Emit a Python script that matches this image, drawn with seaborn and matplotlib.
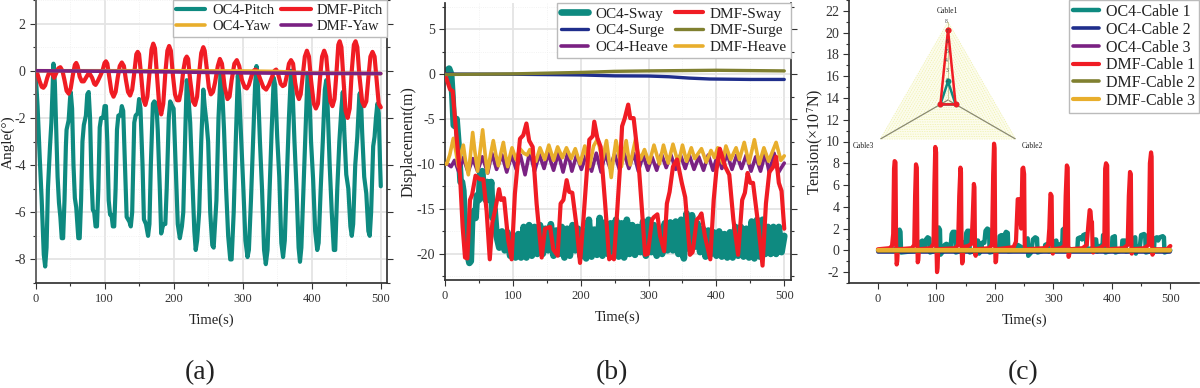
import numpy as np
import pandas as pd
import matplotlib
matplotlib.use("Agg")
import matplotlib.pyplot as plt
from matplotlib.ticker import MultipleLocator
import seaborn as sns

TEAL, RED, ORANGE, PURPLE, BLUE, OLIVE = "#0e8a80", "#f01c24", "#e8ae2c", "#7a2182", "#1f2e8c", "#808030"

# --- (a) angle, (time, value) ---
PITCH_OC4 = [(0,0),(3,-1.5),(6,-3.6),(9,-5.5),(12,-7.8),(14,-8.3),(16,-7.5),(18,-5.0),(21,-3.2),(23,-2.2),(25,-0.6),(26,0.3),(28,-0.5),
    (30,-2.5),(32,-4.5),(34,-5.6),(36,-6.2),(38,-7.1),(40,-7.1),(42,-5.5),(44,-3.2),(45,-2.5),(48,-2.1),(50,-1.2),(51,-0.9),(53,-1.6),
    (55,-4),(57,-5.4),(59,-5.8),(62,-7.1),(64,-7.1),(66,-5.5),(68,-3),(70,-2.3),(73,-1.9),(75,-1),(77,-0.9),(79,-2),(81,-4.5),(83,-5.9),
    (85,-6.0),(87,-6.6),(89,-6.6),(91,-5),(93,-2.4),(95,-2.0),(98,-2.0),(100,-1.5),(102,-1.5),(104,-3),(106,-5.5),(108,-6.1),(110,-6.1),
    (112,-6.6),(114,-6.6),(116,-5),(118,-2.5),(120,-1.9),(123,-1.9),(125,-1.5),(127,-1.7),(129,-3.5),(132,-6.2),(134,-6.3),(136,-6.4),
    (138,-6.6),(140,-6.0),(143,-2.2),(145,-1.9),(148,-1.8),(150,-1.2),(152,-1.6),(155,-4),(157,-6.3),(160,-6.5),(163,-7.0),(165,-6.5),
    (167,-4),(170,-1.4),(172,-1.3),(175,-1.4),(177,-2.5),(180,-5),(182,-6.9),(185,-6.5),(188,-6.5),(190,-5),(193,-2),(195,-1.3),(198,-1.5),
    (200,-1.6),(203,-4),(206,-6.5),(209,-7.1),(212,-6.6),(214,-6),(217,-2.5),(219,-0.4),(221,-0.9),(224,-2.2),(227,-4.5),(230,-6.8),
    (232,-7.6),(234,-7.2),(237,-6),(240,-3),(243,-0.8),(245,-1.5),(248,-2.3),(250,-3),(253,-6),(256,-7.4),(258,-7.5),(262,-5.5),(265,-2),
    (268,-0.1),(270,-0.6),(273,-2.5),(276,-5),(279,-7),(282,-8),(284,-8),(287,-6),(290,-3),(293,-0.2),(295,-1),(298,-3),(301,-5),(304,-7.2),
    (307,-7.9),(309,-7.6),(312,-5.5),(315,-3),(318,-0.6),(320,0.2),(322,-0.6),(325,-3),(328,-5),(331,-7.6),(333.5,-8.2),(336,-7.6),(339,-5),
    (342,-2.5),(345,-0.3),(347,-0.6),(350,-2.8),(353,-4.5),(356,-7.3),(358.5,-7.9),(361,-7.2),(364,-4.5),(367,-2),(370,0),(372,-0.6),
    (375,-3),(378,-5),(381,-7.5),(383,-8.1),(385,-7.5),(388,-5),(391,-2.5),(394,-0.1),(396,-0.5),(399,-3),(402,-4.6),(405,-6.8),(408,-7.6),
    (410,-7.3),(413,-5),(416,-3),(419,-0.8),(421,-0.4),(423,-1.5),(426,-4),(429,-6),(432,-7.6),(434,-7.6),(437,-5),(440,-3),(443,-1.6),
    (445,-0.9),(447,-2.5),(450,-4.4),(453,-5),(456,-6.6),(458,-7),(460,-6.5),(463,-4),(466,-2.8),(469,-1),(471,-0.9),(473,-2.6),(476,-4.5),
    (479,-5.2),(482,-6.8),(484,-7),(486,-6),(489,-3.2),(491,-2.8),(493,-2),(495,-1.4),(497,-1.8),(499,-4),(500,-4.9)]
PITCH_DMF = [(0,0),(3,-0.15),(6,-0.45),(9,-0.68),(11.4,-0.72),(14,-0.62),(17,-0.3),(20,-0.05),(23,-0.05),(27,-0.3),(30,-0.1),(33,0.1),(36,0.15),
    (39,0),(42,-0.4),(45,-0.85),(48,-0.97),(51,-0.75),(54,-0.2),(57,0.25),(59,0.33),(61,0.2),(64,-0.25),(67,-0.45),(70,-0.45),(73,-0.3),
    (76,-0.15),(79,-0.15),(82,-0.3),(85,-0.55),(87,-0.6),(90,-0.45),(94,-0.2),(97,0),(100,0.33),(102,0.4),(104,0.3),(107,-0.3),(110,-0.9),
    (113,-1.1),(116,-0.9),(119,-0.3),(122,0.2),(125,0.35),(128,0.2),(131,-0.4),(134,-0.9),(137,-1.05),(140,-0.8),(143,-0.1),(146,0.7),
    (148,0.8),(150,0.7),(153,-0.2),(156,-1.2),(159,-1.45),(162,-1.1),(165,-0.1),(168,0.9),(170.5,1.15),(173,0.95),(176,-0.2),(179,-1.4),
    (182,-1.85),(185,-1.4),(188,-0.1),(191,0.85),(193.5,1.05),(196,0.85),(199,-0.2),(202,-1),(205,-1.25),(208,-1.25),(211,-0.8),(214,0),
    (217,0.5),(219,0.6),(221,0.5),(224,-0.4),(228,-1.3),(231,-1.45),(234,-1.1),(237,-0.1),(240,0.75),(243,1),(245,0.85),(248,0.1),(251,-0.7),
    (254,-1),(257,-0.9),(260,-0.5),(264,0.2),(267,0.5),(270,0.3),(274,-0.7),(278,-1.2),(281,-1.1),(284,-0.4),(288,0.3),(291.5,0.45),(295,0.2),
    (299,-0.4),(303,-0.7),(306,-0.75),(309,-0.6),(313,-0.2),(316,0),(318,0.05),(321,0),(326,-0.4),(330,-0.7),(334,-0.8),(338,-0.6),(342,-0.3),
    (346,0),(348.5,0.05),(351,-0.1),(355,-0.55),(358,-0.65),(361,-0.6),(364,-0.2),(367,0.3),(370,0.45),(373,0.3),(376,-0.5),(379,-1),(381.5,-1.2),
    (384,-1),(387,-0.2),(390,0.6),(393,0.85),(396,0.6),(399,-0.4),(403,-1.4),(406,-1.6),(409,-1.4),(412,-0.3),(415,0.6),(418,0.85),(421,0.6),
    (424,-0.4),(427,-1.3),(430,-1.5),(433,-1.2),(436,0),(438.5,1.1),(440.5,1.25),(443,1),(446,-0.4),(449,-1.7),(452,-2),(455,-1.6),(458,0),
    (461,1.1),(463.5,1.25),(466,1),(469,-0.2),(473,-1.3),(476,-1.5),(479,-1.3),(482,-0.3),(485,0.6),(488,0.8),(491,0.6),(494,-0.4),(497,-1.4),(500,-1.55)]
YAW_OC4 = [(0,0),(100,0),(200,0),(300,-0.01),(350,-0.03),(400,-0.1),(500,-0.12)]
YAW_DMF = [(0,0),(100,-0.02),(200,-0.05),(300,-0.09),(400,-0.11),(500,-0.12)]

# --- (b) displacement ---
SWAY_OC4_HEAD = [(0,0),(3,0.4),(6,0.6),(9,0),(11,-2.5),(13,-5.7),(15,-5.8),(17,-5),(20,-8),(23,-12),(25,-12),(27,-13),(30,-18),(33,-20),
    (36,-21),(38,-20.8),(40,-16),(43,-15.2),(45,-16),(47,-13.5),(50,-14),(52,-11),(55,-10.8),(57,-13.5),(60,-14),(62,-12),(65,-14),(68,-12),
    (70,-16),(73,-15)]
SWAY_OC4_TAIL = [-18,-19.3,-17.5,-19.6,-17.6,-20.2,-18,-20.4,-17.8,-20.4,-17,-20.4,-16.8,-20.2,-17,-20,-16.8,-20,-17.2,-19.6,-16.7,-20.2,
    -17.4,-20,-17,-20.4,-17.2,-20.2,-16.8,-19.6,-17.2,-20.3,-17.4,-20.5,-16.2,-20.3,-17.3,-20.1,-16,-20.2,-16.5,-20,-16.6,-19.8,-16.2,-20.3,
    -16.6,-20.4,-16.2,-20,-16.8,-20.1,-17,-19.8,-16.4,-20.2,-16.2,-19.8,-16.8,-20.2,-17.2,-20,-16.6,-19.6,-16.5,-19.6,-16.4,-20,-16.2,-20.5,
    -15.5,-19.4,-15.7,-19.2,-16.6,-19.8,-17.2,-20.3,-17.4,-20,-17.6,-20.2,-17.5,-20.3,-17.8,-20.4,-17.6,-20.4,-17,-20.2,-17,-20.3,-17.2,-20.4,
    -16.4,-20.5,-16.2,-20.3,-16.2,-20,-17,-20,-17,-20,-17,-19.8,-18]
SURGE_OC4 = [(0,0),(100,-0.02),(200,-0.1),(250,-0.2),(300,-0.22),(330,-0.3),(360,-0.45),(390,-0.55),(450,-0.6),(500,-0.6)]
SURGE_DMF = [(0,-0.05),(100,0.02),(200,0.18),(250,0.3),(300,0.35),(400,0.42),(500,0.35)]
HEAVE_OC4 = [(0,-10),(4,-10),(9,-10.3),(14,-9.6),(20,-10.8),(27,-9.3),(34,-10.9),(41,-9.4),(48,-10.8),(55,-9.2),(63,-11),(69,-8.8),(76,-10.6),
    (84,-9),(91,-10.9),(98,-9),(105,-10.6),(111,-9),(118,-11.2),(125,-8.6),(132,-10.8),(139,-8.9),(146,-10.5),(152,-8.8),(160,-10.7),(167,-8.8),
    (174,-10.9),(181,-8.7),(187,-10.8),(194,-9),(201,-10.6),(208,-9),(216,-10.8),(223,-8.8),(230,-10.9),(236,-8.8),(243,-10.4),(250,-8.9),
    (257,-10.6),(264,-8.8),(271,-10.5),(278,-8.8),(285,-10.8),(292,-9),(299,-10.7),(305,-9.2),(312,-10.7),(319,-8.9),(326,-10.4),(333,-9),
    (340,-10.6),(347,-9),(354,-10.5),(360,-9),(367,-10.6),(374,-9.2),(381,-10.7),(388,-9),(395,-10.7),(402,-8.9),(408,-10.5),(416,-8.9),
    (423,-10.6),(430,-9),(437,-10.5),(444,-9),(451,-10.8),(458,-9.2),(465,-10.8),(472,-8.8),(478,-11),(485,-8.8),(491,-11),(495,-10.5),(500,-9.9)]
HEAVE_DMF = [(0,-10),(2.5,-10),(7,-9),(12.3,-7.15),(16,-8.6),(19.7,-10.3),(23,-9),(27,-7.9),(30,-9.5),(34.4,-11.2),(37.5,-9),(40.8,-6.5),(44,-8.6),
    (48,-10.8),(52,-8.4),(55.5,-6.2),(59,-8.8),(62.4,-11),(67,-9),(71.2,-7.4),(75,-9),(78.6,-10.2),(82,-8.9),(86,-7.6),(89,-9),(92.4,-10.3),
    (96,-9),(98.8,-8.2),(104.7,-9.5),(110.5,-8.3),(116,-8.8),(121,-9),(125,-8.4),(134,-9.7),(140,-8.2),(147,-9.5),(153,-7.9),(160,-9.6),(166,-8.1),
    (173,-9.3),(179,-8.2),(186,-9.4),(192,-8.3),(199,-10),(206,-8),(213,-10.3),(219,-8),(225,-7.2),(232,-9.6),(238,-7.4),(245,-11.5),(248,-9.5),
    (252,-7.4),(256,-9),(260,-10.3),(263,-9),(267,-7.4),(270,-9),(273,-10.1),(277,-8.6),(281,-7.2),(284,-8.6),(288,-9.5),(294,-8.4),(301,-9.9),
    (308,-7.9),(316,-10),(322,-7.9),(329,-9.9),(336,-7.8),(344,-10),(350,-7.9),(356,-9.7),(363,-8.2),(368,-9.4),(378,-8.3),(385,-9.8),(392,-8.5),
    (397,-9.3),(402,-8.2),(409,-9.9),(414,-8),(421,-9.5),(429,-8.2),(434,-9.5),(441,-7.6),(448,-9.9),(456,-7.3),(463,-10),(470,-8.2),(477,-9.7),
    (488,-7.6),(495,-9.6),(500,-9.1)]
SWAY_DMF = [(0,0),(3,-0.7),(7.4,-1.7),(11.3,-1.9),(16,-6.1),(22,-11.1),(26,-17),(29.5,-20.4),(33,-20.5),(36.8,-14),(40,-13.4),(45,-11.3),(51.5,-11.7),
    (56.5,-11.7),(61.4,-15.3),(66,-20.6),(69.8,-16.5),(73.7,-15.2),(79.6,-12.8),(82.5,-14),(87,-13.8),(93,-18.4),(98.2,-20.6),(103,-13.3),(107,-10),
    (110.5,-7.2),(115.4,-6.8),(120,-5.5),(124,-7.4),(129.2,-8.1),(135,-14.4),(142.5,-20.4),(147.4,-17.2),(155,-17),(159.6,-19.5),(166,-20.2),
    (170.4,-14.4),(174.5,-14),(179.3,-11.8),(183,-13.1),(187.6,-13.2),(194,-17),(199,-21),(204,-16.2),(209,-10.9),(212.7,-7.3),(217.8,-6.9),
    (220,-5.3),(224.5,-7.1),(229.4,-8.1),(236,-14.4),(242,-20.6),(245.5,-20.3),(249,-20.6),(254,-15),(257.8,-10.5),(261,-5.8),(265,-4.9),(270,-3.4),
    (273,-4.9),(278,-4.9),(285,-9.6),(290,-14.8),(295,-20.1),(299,-20),(305,-16.2),(308,-15.9),(313,-15.6),(317,-18),(323,-19.7),(327,-14.4),
    (331,-13.1),(336,-10.3),(342,-9.5),(349,-12.1),(354,-13.7),(361,-20.1),(365,-19.8),(371,-16.2),(375,-15.9),(378,-15.5),(383,-18),(391,-20.6),
    (396,-14),(400,-10.7),(405,-8.3),(413,-10.3),(419,-11.2),(425,-16.2),(432,-20.1),(438,-14),(442,-13.2),(446,-11),(450,-12.1),(454,-12.1),
    (462,-17),(468,-21.3),(473,-14.4),(478,-10.9),(484,-10.3),(488,-9.2),(492,-12.1),(496,-13),(500,-17.2)]

# --- (c) tension ---
CABLE1_OC4 = [(0,0),(30,0.1),(33,0.3),(34,1.8),(37,1.9),(38.5,1.7),(39.5,-0.2),(72,0),(73,0.8),(76,0.9),(78,0.8),(80,0.1),(82,1),(85,1.2),(88,1.1),(89,-0.2),
    (100,0),(101,1.9),(104,2.1),(106,1.9),(107,-0.4),(113,0),(114,0.5),(117,0.6),(120,0.5),(124,0.1),(126,1.5),(128,1.7),(132,1.7),(133,-0.2),(145,0),
    (146,0.7),(149,0.3),(151,1.6),(153,1.8),(156,1.8),(157,-0.2),(167,0),(168,0.9),(171,0.9),(173,-0.3),(177,0),(178,0.7),(182,0.7),(184,1.8),(187,2),(190,1.9),
    (191,-0.2),(207,0),(208,1.3),(211,1.4),(214,1.3),(215,0.3),(217,1.5),(219,1.7),(222,1.6),(223,-0.1),(236,0),(237,0.5),(239,0.5),(252,0.1),(253,1),(256,1.1),
    (257,-0.5),(262,-0.2),(265,1),(269,1.2),(272,1.1),(273,-0.2),(285,0),(286,0.5),(290,0.6),(292,-0.1),(300,0),(301,0.8),(305,0.9),(307,0.2),(309,0.5),(313,0.6),
    (315,0.1),(316,1.9),(318,2),(320,0.4),(332,0),(341,0.1),(342,1.1),(346,1.2),(349,1),(351,1.4),(355,1.5),(357,0.1),(368,0.2),(369,1),(373,1),(375,-0.1),(378,0),
    (379,0.4),(384,0.4),(385,1.4),(388,1.4),(389,-0.2),(400,0),(401,1.2),(405,1.3),(406,-0.2),(417,0),(418,0.9),(423,0.9),(424,-0.1),(434,0),(435,1.1),(440,1.2),
    (441,-0.3),(444,0.3),(448,0.4),(450,1.4),(455,1.5),(457,1.4),(458,-0.2),(472,0),(473,1.1),(477,1.2),(479,0.9),(482,1.2),(487,1.3),(489,1.2),(490,-0.2),(500,0)]
CABLE1_DMF = [(0,0.1),(20,0.2),(24,0.4),(26,1.5),(27.5,7.5),(28.5,8.2),(30,8.1),(31,1),(32,-1.3),(33,-1),(34,0.1),(58,0.2),(62,0.5),(63.5,5),(65,7.9),(66.5,7.6),
    (67.5,0.5),(68,-1.1),(69,-0.9),(70,0.1),(90,0.2),(95,0.6),(96.5,6),(98,9.5),(99.5,9),(100,0.5),(101,-2),(102,-1.6),(103,0.1),(132,0.2),(137,0.5),(139,5),(141,7.6),
    (142,7.2),(143,0.2),(144,-1.2),(145,-1),(146,0.3),(154,0.4),(160,0.6),(162,3),(164,6.1),(165,5.8),(166,0),(167,-0.5),(168,0.1),(190,0.2),(195,0.5),(197,7),(198.5,9.8),
    (199.5,9.4),(200.5,0.5),(201,-1.1),(202,-1),(203,0.1),(232,0.3),(236,0.8),(239,4.7),(241,4.7),(243,3),(245,2),(247,7.5),(248.5,7.6),(250,7),(251,0.4),(252,0.1),(285,0.2),
    (291,0.5),(293,2),(295,5.2),(297,5),(298,0.2),(299,-0.3),(300,0.1),(313,0.2),(319,0.4),(321,5),(323,7.8),(324.5,7.6),(325.5,0.3),(326,-0.6),(327,-0.4),(328,0.1),(350,0.2),
    (357,0.5),(360,2.5),(362,3.7),(363.5,3.6),(365,2.4),(366,2.6),(367,0.2),(368,-0.2),(369,0.1),(380,0.2),(387,0.5),(388.5,7.5),(390,8),(392,7.8),(393,0.1),(420,0.2),(427,0.5),
    (429,5),(431,7.2),(432.5,7),(433.5,0.1),(434,-0.3),(435,-0.1),(436,0.1),(455,0.2),(463,0.5),(465,8),(467,9),(468,8.6),(469,0.2),(469.5,-0.4),(471,0.1),(490,0.1),(495,0.1),(498,0.3),(500,0.4)]
CABLE2_OC4 = [(0,-0.14),(500,-0.14)]
CABLE3_OC4 = [(0,-0.1),(500,-0.1)]
CABLE2_DMF = [(0,-0.04),(500,-0.04)]
CABLE3_DMF = [(0,0.06),(500,0.06)]

# inset radar, one value per cable
RADAR_NAMES = ["Cable1", "Cable2", "Cable3"]
RADAR_OC4 = [1.9, 0.9, 0.9]
RADAR_DMF = [7.2, 0.9, 0.9]
RADAR_MAX = 8

sns.set_theme(style="ticks")
plt.rcParams["font.family"] = ["Liberation Serif", "DejaVu Sans"]
plt.rcParams["mathtext.fontset"] = "stix"
plt.rcParams["axes.unicode_minus"] = False
plt.rcParams["axes.edgecolor"] = "#333333"
plt.rcParams["xtick.color"] = "#333333"
plt.rcParams["ytick.color"] = "#333333"
plt.rcParams["text.color"] = "#222222"
plt.rcParams["axes.labelcolor"] = "#222222"

W, H = 1200, 388
fig = plt.figure(figsize=(W / 100, H / 100), dpi=100)


def box(left, top, right, bottom):
    return [left / W, 1 - bottom / H, (right - left) / W, (bottom - top) / H]


def draw(ax, pts, color, lw, label=None, z=2):
    df = pd.DataFrame(pts, columns=["t", "v"])
    sns.lineplot(data=df, x="t", y="v", ax=ax, color=color, linewidth=lw, estimator=None, sort=False,
                 label=label, zorder=z, legend=False, solid_joinstyle="round")


def style(ax, xlim, ylim, ymaj, ymin, grid=True, ysize=10):
    ax.set_xlim(*xlim)
    ax.set_ylim(*ylim)
    ax.xaxis.set_major_locator(MultipleLocator(100))
    ax.xaxis.set_minor_locator(MultipleLocator(50))
    ax.yaxis.set_major_locator(MultipleLocator(ymaj))
    ax.yaxis.set_minor_locator(MultipleLocator(ymin))
    ax.tick_params(axis="x", which="major", labelsize=9, length=4, width=0.8, pad=3)
    ax.tick_params(axis="y", which="major", labelsize=ysize, length=4, width=0.8, pad=3)
    ax.tick_params(axis="both", which="minor", length=2.5, width=0.8)
    ax.set_xlabel("")
    ax.set_ylabel("")
    if grid:
        ax.grid(True, which="major", color="#e4e4e4", linewidth=1.3)
        ax.grid(True, which="minor", color="#efefef", linewidth=0.6, linestyle=":")
        ax.set_axisbelow(True)


def legend(ax, handles, ncol, fontsize, handlelength=2.1, labelspacing=0.2, columnspacing=0.5):
    leg = ax.legend(handles=handles, ncol=ncol, loc="upper right", bbox_to_anchor=(1.0, 1.0), fontsize=fontsize,
                    frameon=True, fancybox=False, framealpha=1, edgecolor="#bbbbbb", borderpad=0.25,
                    columnspacing=columnspacing, handlelength=handlelength, handletextpad=0.45,
                    labelspacing=labelspacing, borderaxespad=0)
    leg.set_zorder(10)
    return leg


# --- Panel (a) ---
ax_a = fig.add_axes(box(35.5, 0, 387, 283))
draw(ax_a, PITCH_OC4, TEAL, 3.0, "OC4-Pitch", 2)
draw(ax_a, PITCH_DMF, RED, 3.0, "DMF-Pitch", 3)
draw(ax_a, YAW_OC4, ORANGE, 2.6, "OC4-Yaw", 4)
draw(ax_a, YAW_DMF, PURPLE, 2.6, "DMF-Yaw", 5)
style(ax_a, (0, 509), (-9, 3), 2, 1)
ax_a.spines["top"].set_visible(False)
ax_a.tick_params(axis="y", which="both", right=True)
ax_a.spines["left"].set_color("#666666")
ax_a.spines["left"].set_linewidth(1.4)
h = {l.get_label(): l for l in ax_a.get_lines()}
legend(ax_a, [h["OC4-Pitch"], h["OC4-Yaw"], h["DMF-Pitch"], h["DMF-Yaw"]], 2, 10.5, handlelength=2.0)

# --- Panel (b) ---
ax_b = fig.add_axes(box(445, 3, 790.7, 280))
tail = list(zip(range(76, 501, 4), SWAY_OC4_TAIL))
draw(ax_b, SWAY_OC4_HEAD + tail, TEAL, 4.8, "OC4-Sway", 2)
draw(ax_b, HEAVE_OC4, PURPLE, 2.6, "OC4-Heave", 3)
draw(ax_b, HEAVE_DMF, ORANGE, 2.6, "DMF-Heave", 4)
draw(ax_b, SWAY_DMF, RED, 3.0, "DMF-Sway", 5)
draw(ax_b, SURGE_OC4, BLUE, 2.4, "OC4-Surge", 6)
draw(ax_b, SURGE_DMF, OLIVE, 2.4, "DMF-Surge", 7)
style(ax_b, (0, 509.5), (-22.9, 7.9), 5, 2.5)
ax_b.spines["top"].set_visible(False)
ax_b.tick_params(axis="y", which="both", right=True)
h = {l.get_label(): l for l in ax_b.get_lines()}
legend(ax_b, [h[k] for k in ["OC4-Sway", "OC4-Surge", "OC4-Heave", "DMF-Sway", "DMF-Surge", "DMF-Heave"]], 2, 11, handlelength=1.8)

# --- Panel (c) ---
ax_c = fig.add_axes(box(849.3, 0, 1199, 283))
draw(ax_c, CABLE1_OC4, TEAL, 3.2, "OC4-Cable 1", 2)
draw(ax_c, CABLE2_OC4, BLUE, 2.6, "OC4-Cable 2", 3)
draw(ax_c, CABLE3_OC4, PURPLE, 2.6, "OC4-Cable 3", 3)
draw(ax_c, CABLE1_DMF, RED, 3.0, "DMF-Cable 1", 4)
draw(ax_c, CABLE2_DMF, OLIVE, 2.6, "DMF-Cable 2", 5)
draw(ax_c, CABLE3_DMF, ORANGE, 3.0, "DMF-Cable 3", 6)
style(ax_c, (-49, 549), (-3, 23), 2, 1, grid=False, ysize=10)
ax_c.set_xticks([0, 100, 200, 300, 400, 500])
ax_c.spines["top"].set_visible(False)
ax_c.spines["right"].set_visible(False)
h = {l.get_label(): l for l in ax_c.get_lines()}
legend(ax_c, [h[k] for k in ["OC4-Cable 1", "OC4-Cable 2", "OC4-Cable 3", "DMF-Cable 1", "DMF-Cable 2", "DMF-Cable 3"]],
       1, 11.5, labelspacing=0.11, handlelength=1.6)

# --- Radar inset ---
cx, cy, rad = 948, 100, 78
ax_r = fig.add_axes(box(cx - rad, cy - rad, cx + rad, cy + rad), projection="polar")
ax_r.set_theta_zero_location("N")
ax_r.set_theta_direction(-1)
ax_r.set_ylim(0, RADAR_MAX)
ax_r.patch.set_alpha(0)
ax_r.grid(False)
ax_r.set_xticks([])
ax_r.set_yticks([])
ax_r.spines["polar"].set_visible(False)
angles = np.deg2rad([0, 120, 240])
closed = np.append(angles, angles[0])
ax_r.fill(closed, [RADAR_MAX] * 4, color="#fcfcec", zorder=1, lw=0)
for r in np.arange(0.5, RADAR_MAX + 0.1, 0.5):
    ax_r.plot(closed, [r] * 4, color="#eef0a8", lw=0.5, ls=(0, (2, 1.5)), zorder=2)
for a in angles[1:]:
    ax_r.plot([a, a], [0, RADAR_MAX], color="#8a8a70", lw=0.9, zorder=3)
ax_r.plot([0, 0], [0, RADAR_MAX], color="#c8c8a0", lw=0.7, zorder=3)
ax_r.plot(closed, RADAR_OC4 + RADAR_OC4[:1], color=TEAL, lw=1.8, marker="o", ms=3, zorder=4)
ax_r.plot(closed, RADAR_DMF + RADAR_DMF[:1], color=RED, lw=1.8, marker="o", ms=3.2, zorder=5)
for v in range(2, RADAR_MAX + 1):
    ax_r.text(0, v, str(v), fontsize=4, color="#444444", ha="right", va="center", zorder=6)

fig.text(947.7 / W, 1 - 10.7 / H, RADAR_NAMES[0], fontsize=5.5, ha="center", va="center")
fig.text(1032 / W, 1 - 146 / H, RADAR_NAMES[1], fontsize=5.5, ha="center", va="center")
fig.text(863 / W, 1 - 146 / H, RADAR_NAMES[2], fontsize=5.5, ha="center", va="center")

# --- Axis labels and panel letters ---
fig.text(8 / W, 1 - 142 / H, "Angle(°)", rotation=90, fontsize=11, ha="center", va="center")
fig.text(409 / W, 1 - 142 / H, "Displacement(m)", rotation=90, fontsize=11.5, ha="center", va="center")
fig.text(815 / W, 1 - 142 / H, "Tension(×10$^{7}$N)", rotation=90, fontsize=11.5, ha="center", va="center")
for x, y in [(212, 320.5), (618, 317), (1024.5, 320)]:
    fig.text(x / W, 1 - y / H, "Time(s)", fontsize=10.5, ha="center", va="center")
for x, s in [(200, "(a)"), (612, "(b)"), (1023, "(c)")]:
    fig.text(x / W, 1 - 373 / H, s, fontsize=20, ha="center", va="center")

fig.savefig("out.png", dpi=100)
plt.close(fig)
